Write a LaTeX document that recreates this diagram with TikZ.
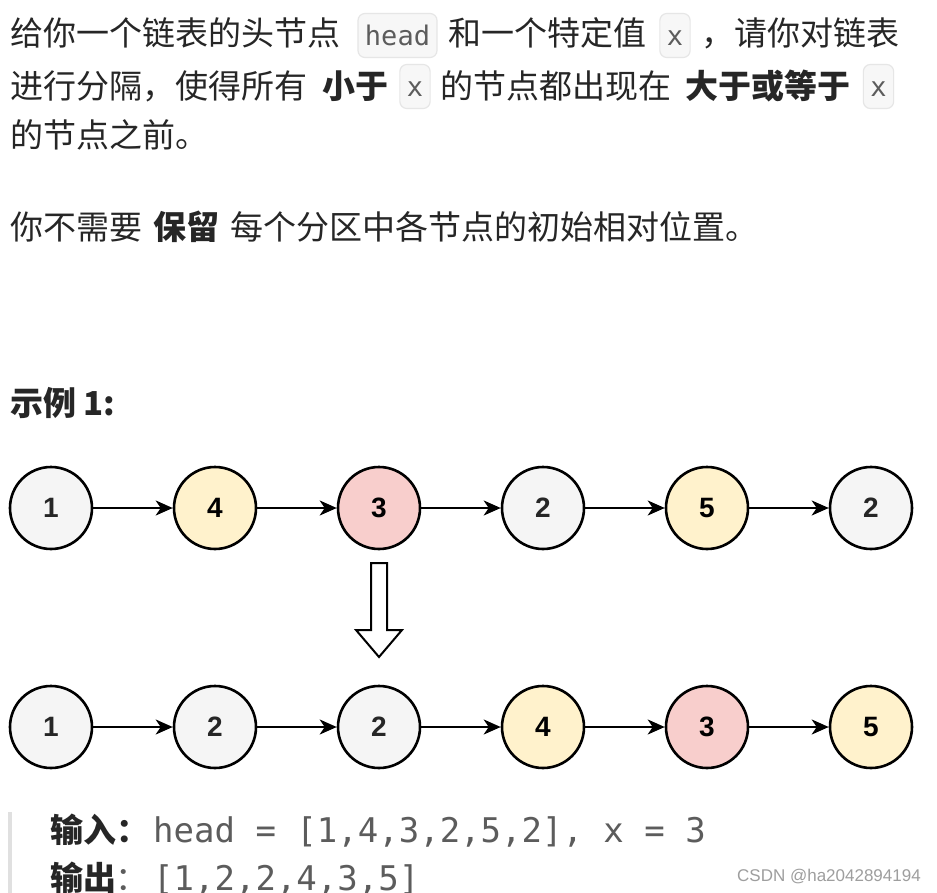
\documentclass[tikz,border=0pt]{standalone}
\usepackage{fontspec}
\usepackage{tikz}
\usetikzlibrary{positioning, arrows.meta}
\newfontfamily\cjk{Noto Sans CJK SC}
\newfontfamily\mono{DejaVu Sans Mono}
\newfontfamily\numfont{Liberation Sans}
\definecolor{txtcol}{HTML}{262626}
\definecolor{codecol}{HTML}{5C5C5C}
\definecolor{codebg}{HTML}{F7F7F7}
\definecolor{codeline}{HTML}{E6E6E6}
\definecolor{nodegray}{HTML}{F5F5F5}
\definecolor{nodeyellow}{HTML}{FFF2CC}
\definecolor{nodered}{HTML}{F8CECC}
\definecolor{barcol}{HTML}{E0E0E0}
\definecolor{markcol}{HTML}{9E9E9E}

\begin{document}
\begin{tikzpicture}[x=1pt, y=-1pt, node distance=164pt, on grid,
    txt/.style={anchor=base west, inner sep=0pt, text=txtcol, font=\cjk\fontsize{33}{40}\selectfont},
    txtb/.style={txt, font=\cjk\bfseries\fontsize{33}{40}\selectfont},
    code/.style={draw=codeline, fill=codebg, rounded corners=7pt, line width=1.2pt,
        minimum height=44pt, inner xsep=7pt, text height=20pt, text depth=0pt,
        text=codecol, font=\mono\fontsize{27}{30}\selectfont},
    listnode/.style={circle, draw, line width=2.6pt, minimum size=82pt, inner sep=0pt,
        font=\numfont\bfseries\fontsize{28}{30}\selectfont},
    graynode/.style={listnode, fill=nodegray, text=txtcol},
    yellownode/.style={listnode, fill=nodeyellow},
    rednode/.style={listnode, fill=nodered},
    link/.style={line width=2pt, -{Stealth[length=17pt, width=15pt, inset=5pt]}}]
    \clip (0,0) rectangle (937,893);
    \fill[white] (0,0) rectangle (937,893);

    \node[txt] (t1a) at (10,45.5) {给你一个链表的头节点};
    \node[code] (c1) at (397.5,35.5) {head};
    \node[txt] (t1b) at (448,45.5) {和一个特定值};
    \node[code] (c2) at (675,35.5) {x};
    \node[txt] (t1c) at (701,45.5) {，请你对链表};

    \node[txt] (t2a) at (10,98.5) {进行分隔，使得所有};
    \node[txtb] (t2b) at (322,98.5) {小于};
    \node[code] (c3) at (415,86.5) {x};
    \node[txt] (t2c) at (440,98.5) {的节点都出现在};
    \node[txtb] (t2d) at (685,98.5) {大于或等于};
    \node[code] (c4) at (878.5,86.5) {x};

    \node[txt] (t3) at (10,147.5) {的节点之前。};

    \node[txt] (t4a) at (10,239.5) {你不需要};
    \node[txtb] (t4b) at (153,239.5) {保留};
    \node[txt] (t4c) at (230,239.5) {每个分区中各节点的初始相对位置。};

    \node[txtb] (ex) at (10,415) {示例 1:};

    \node[graynode] (a1) at (51,508) {1};
    \node[yellownode] (a2) [right=of a1] {4};
    \node[rednode] (a3) [right=of a2] {3};
    \node[graynode] (a4) [right=of a3] {2};
    \node[yellownode] (a5) [right=of a4] {5};
    \node[graynode] (a6) [right=of a5] {2};

    \node[graynode] (b1) [below=219pt of a1] {1};
    \node[graynode] (b2) [right=of b1] {2};
    \node[graynode] (b3) [right=of b2] {2};
    \node[yellownode] (b4) [right=of b3] {4};
    \node[rednode] (b5) [right=of b4] {3};
    \node[yellownode] (b6) [right=of b5] {5};

    \path[link]
        (a1) edge (a2) (a2) edge (a3) (a3) edge (a4) (a4) edge (a5) (a5) edge (a6)
        (b1) edge (b2) (b2) edge (b3) (b3) edge (b4) (b4) edge (b5) (b5) edge (b6);

    \draw[line width=2pt, line join=miter] (371,563) -- (387,563) -- (387,630) -- (402,630)
        -- (379,657) -- (356,630) -- (371,630) -- cycle;

    \fill[barcol] (8,812) rectangle (12,893);
    \node[txtb] (in) at (50,842) {输入：};
    \node[txt, text=codecol, font=\mono\fontsize{34}{40}\selectfont] (inval) at (153,842) {head = [1,4,3,2,5,2], x = 3};
    \node[txtb] (out) at (50,890) {输出};
    \node[txt, text=codecol] (outc) at (115,890) {：};
    \node[txt, text=codecol, font=\mono\fontsize{34}{40}\selectfont] (outval) at (153,890) {[1,2,2,4,3,5]};
    \node[anchor=east, inner sep=0pt, text=markcol, font=\numfont\fontsize{17}{20}\selectfont] (mark) at (921,877) {CSDN @ha2042894194};
\end{tikzpicture}
\end{document}
